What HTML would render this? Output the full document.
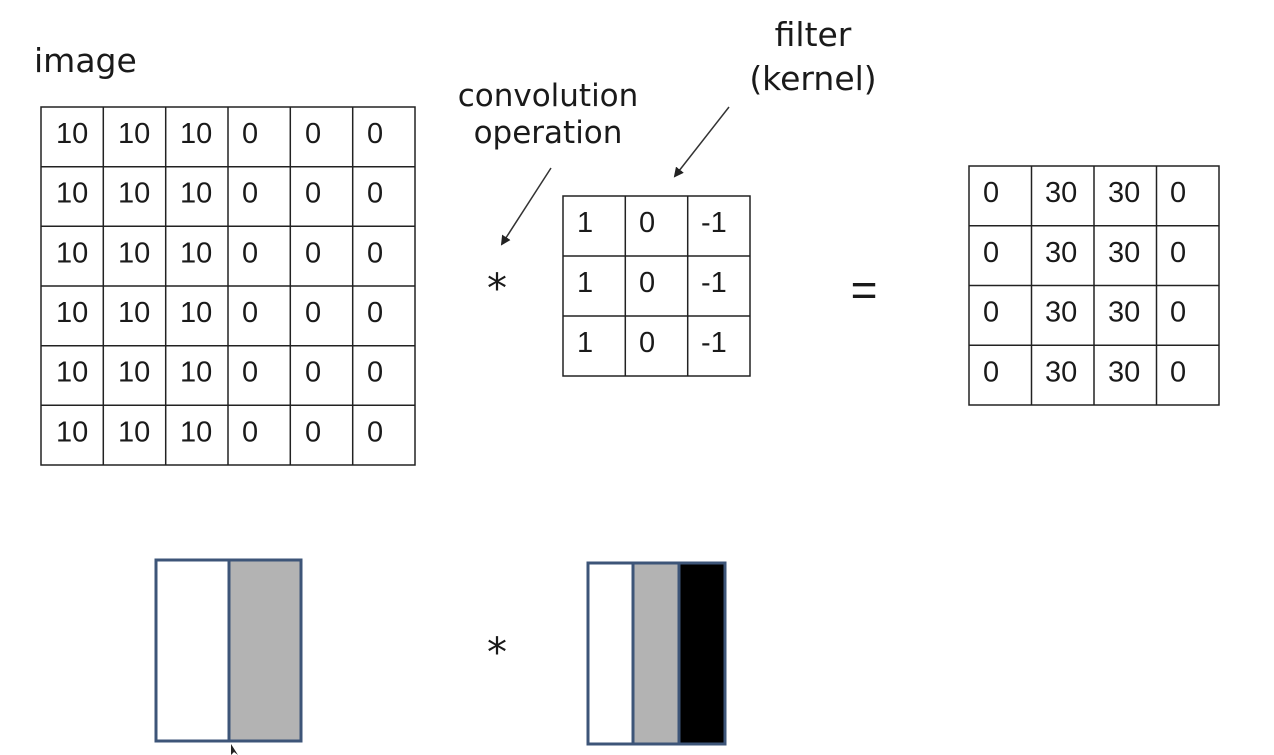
<!DOCTYPE html>
<html><head><meta charset="utf-8"><style>
html,body{margin:0;padding:0;background:#fff;width:1274px;height:755px;overflow:hidden}
svg text{font-family:"Liberation Sans","DejaVu Sans",sans-serif;fill:#1a1a1a}
svg text.d{font-family:"DejaVu Sans",sans-serif}
</style></head><body>
<svg width="1274" height="755" viewBox="0 0 1274 755" xmlns="http://www.w3.org/2000/svg">
<defs><marker id="ah" markerWidth="10" markerHeight="10" refX="8" refY="5" orient="auto" markerUnits="userSpaceOnUse"><path d="M0,0 L10,5 L0,10 z" fill="#222"/></marker></defs>
<text class="d" x="34" y="72" font-size="33">image</text>
<text class="d" x="548" y="106" font-size="31" text-anchor="middle">convolution</text>
<text class="d" x="548" y="143" font-size="31" text-anchor="middle">operation</text>
<text class="d" x="813" y="46" font-size="33" text-anchor="middle">filter</text>
<text class="d" x="813" y="90" font-size="33" text-anchor="middle">(kernel)</text>
<line x1="551" y1="168" x2="502" y2="244" stroke="#333" stroke-width="1.5" marker-end="url(#ah)"/>
<line x1="729" y1="107" x2="675" y2="176" stroke="#333" stroke-width="1.5" marker-end="url(#ah)"/>
<g stroke="#222" stroke-width="1.5" fill="none">
<rect x="41" y="107" width="374" height="358"/>
<line x1="103.3" y1="107" x2="103.3" y2="465"/><line x1="165.7" y1="107" x2="165.7" y2="465"/><line x1="228" y1="107" x2="228" y2="465"/><line x1="290.3" y1="107" x2="290.3" y2="465"/><line x1="352.7" y1="107" x2="352.7" y2="465"/>
<line x1="41" y1="166.7" x2="415" y2="166.7"/><line x1="41" y1="226.3" x2="415" y2="226.3"/><line x1="41" y1="286" x2="415" y2="286"/><line x1="41" y1="345.7" x2="415" y2="345.7"/><line x1="41" y1="405.3" x2="415" y2="405.3"/>
<rect x="563" y="196" width="187" height="180"/>
<line x1="625.3" y1="196" x2="625.3" y2="376"/><line x1="687.7" y1="196" x2="687.7" y2="376"/>
<line x1="563" y1="256" x2="750" y2="256"/><line x1="563" y1="316" x2="750" y2="316"/>
<rect x="969" y="166" width="250" height="239"/>
<line x1="1031.5" y1="166" x2="1031.5" y2="405"/><line x1="1094" y1="166" x2="1094" y2="405"/><line x1="1156.5" y1="166" x2="1156.5" y2="405"/>
<line x1="969" y1="225.75" x2="1219" y2="225.75"/><line x1="969" y1="285.5" x2="1219" y2="285.5"/><line x1="969" y1="345.25" x2="1219" y2="345.25"/>
</g>
<g font-size="29">
<g id="r"><text x="56" y="143">10</text><text x="118" y="143">10</text><text x="180" y="143">10</text><text x="242" y="143">0</text><text x="305" y="143">0</text><text x="367" y="143">0</text></g>
<use href="#r" y="59.7"/><use href="#r" y="119.3"/><use href="#r" y="179"/><use href="#r" y="238.7"/><use href="#r" y="298.3"/>
<g id="f"><text x="577" y="232">1</text><text x="639" y="232">0</text><text x="701" y="232">-1</text></g>
<use href="#f" y="60"/><use href="#f" y="120"/>
<g id="o"><text x="983" y="202">0</text><text x="1045" y="202">30</text><text x="1108" y="202">30</text><text x="1170" y="202">0</text></g>
<use href="#o" y="59.75"/><use href="#o" y="119.5"/><use href="#o" y="179.25"/>
</g>
<text class="d" x="497" y="302" font-size="40" text-anchor="middle">*</text>
<text x="864" y="306" font-size="46" text-anchor="middle">=</text>
<text class="d" x="497" y="666" font-size="40" text-anchor="middle">*</text>
<g stroke="#3d5578" stroke-width="3">
<rect x="156" y="560" width="73" height="181" fill="#fff"/>
<rect x="229" y="560" width="72" height="181" fill="#b3b3b3"/>
<rect x="588" y="563" width="45" height="181" fill="#fff"/>
<rect x="633" y="563" width="46" height="181" fill="#b3b3b3"/>
<rect x="679" y="563" width="46" height="181" fill="#000"/>
</g>
<path d="M231,744 L231,755 L234,752 L238,755 Z" fill="#222"/>
</svg>
</body></html>
